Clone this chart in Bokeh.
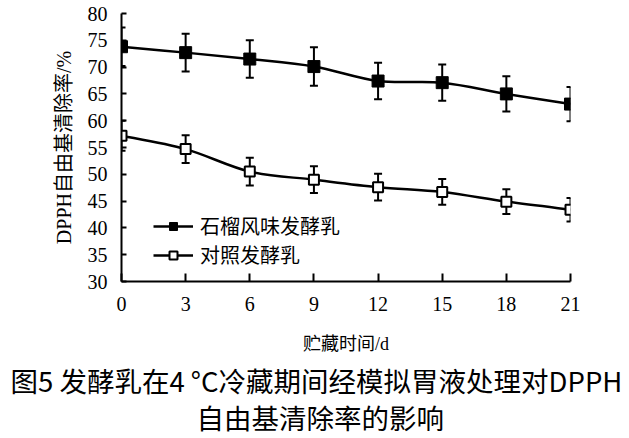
from bokeh.plotting import figure
from bokeh.models import (ColumnDataSource, Whisker, TeeHead, Legend, LegendItem,
                          Range1d, Title, FixedTicker)
from bokeh.embed import file_html
from bokeh.resources import INLINE

days = [0, 3, 6, 9, 12, 15, 18, 21]
pomegranate = [73.8, 72.7, 71.5, 70.1, 67.4, 67.1, 65.0, 63.1]
pomegranate_err = [3.6, 3.5, 3.5, 3.6, 3.4, 3.4, 3.3, 3.2]
control = [57.2, 54.7, 50.5, 49.0, 47.6, 46.7, 44.9, 43.4]
control_err = [2.8, 2.6, 2.6, 2.5, 2.5, 2.4, 2.3, 2.2]
x_ticks = [0, 3, 6, 9, 12, 15, 18, 21]
y_ticks = [30, 35, 40, 45, 50, 55, 60, 65, 70, 75, 80]
series_names = ["石榴风味发酵乳", "对照发酵乳"]
x_title = "贮藏时间/d"
y_title = "DPPH自由基清除率/%"
caption1 = "图5 发酵乳在4 °C冷藏期间经模拟胃液处理对DPPH"
caption2 = "自由基清除率的影响"

SERIF = "Liberation Serif"
SERIF_CJK = "Liberation Serif, Noto Sans CJK SC"
CJK = "Noto Sans CJK SC"


def smooth_segments(xs, ys):
    n = len(xs)
    d = dict(x0=[], y0=[], x1=[], y1=[], cx0=[], cy0=[], cx1=[], cy1=[])
    for i in range(n - 1):
        ip = max(i - 1, 0)
        inn = min(i + 2, n - 1)
        d["x0"].append(xs[i]); d["y0"].append(ys[i])
        d["x1"].append(xs[i + 1]); d["y1"].append(ys[i + 1])
        d["cx0"].append(xs[i] + (xs[i + 1] - xs[ip]) / 6)
        d["cy0"].append(ys[i] + (ys[i + 1] - ys[ip]) / 6)
        d["cx1"].append(xs[i + 1] - (xs[inn] - xs[i]) / 6)
        d["cy1"].append(ys[i + 1] - (ys[inn] - ys[i]) / 6)
    return ColumnDataSource(d)


p = figure(frame_width=449, frame_height=268,
           x_range=Range1d(0, 21), y_range=Range1d(30, 80),
           output_backend="svg", toolbar_location=None,
           min_border_left=121, min_border_right=59,
           min_border_top=13, min_border_bottom=157)
p.grid.visible = False
p.outline_line_color = None
p.background_fill_color = "white"
p.border_fill_color = "white"

for ax in (p.xaxis[0], p.yaxis[0]):
    ax.axis_line_width = 2
    ax.axis_line_color = "black"
    ax.major_tick_line_width = 2
    ax.major_tick_line_color = "black"
    ax.minor_tick_line_color = None
    ax.major_label_text_font = SERIF
    ax.major_label_text_font_size = "20px"
    ax.major_label_text_color = "black"
    ax.axis_label_text_color = "black"
    ax.axis_label_text_font_style = "normal"

p.xaxis.ticker = FixedTicker(ticks=x_ticks)
p.yaxis.ticker = FixedTicker(ticks=y_ticks)
p.xaxis.major_tick_in = 8
p.xaxis.major_tick_out = 0
p.yaxis.major_tick_in = 5
p.yaxis.major_tick_out = 0
p.xaxis.major_label_standoff = 15
p.yaxis.major_label_standoff = 14
p.xaxis.axis_label = x_title
p.yaxis.axis_label = y_title
p.xaxis.axis_label_text_font = SERIF_CJK
p.yaxis.axis_label_text_font = SERIF_CJK
p.xaxis.axis_label_text_font_size = "18px"
p.yaxis.axis_label_text_font_size = "20px"
p.xaxis.axis_label_standoff = 20
p.yaxis.axis_label_standoff = 10

src1 = ColumnDataSource(dict(x=days, y=pomegranate,
                             lo=[v - e for v, e in zip(pomegranate, pomegranate_err)],
                             hi=[v + e for v, e in zip(pomegranate, pomegranate_err)]))
src2 = ColumnDataSource(dict(x=days, y=control,
                             lo=[v - e for v, e in zip(control, control_err)],
                             hi=[v + e for v, e in zip(control, control_err)]))

for src in (src1, src2):
    w = Whisker(source=src, base="x", upper="hi", lower="lo",
                line_width=2, line_color="black",
                upper_head=TeeHead(size=8, line_width=2, line_color="black"),
                lower_head=TeeHead(size=8, line_width=2, line_color="black"),
                level="underlay")
    p.add_layout(w)

p.bezier(x0="x0", y0="y0", x1="x1", y1="y1", cx0="cx0", cy0="cy0",
         cx1="cx1", cy1="cy1", source=smooth_segments(days, pomegranate),
         line_color="black", line_width=2.5)
p.bezier(x0="x0", y0="y0", x1="x1", y1="y1", cx0="cx0", cy0="cy0",
         cx1="cx1", cy1="cy1", source=smooth_segments(days, control),
         line_color="black", line_width=2.5)

l1 = p.line("x", "y", source=src1, line_color="black", line_width=2.5, visible=False)
l2 = p.line("x", "y", source=src2, line_color="black", line_width=2.5, visible=False)
s1 = p.scatter("x", "y", source=src1, marker="square", size=12,
               fill_color="black", line_color="black", line_width=1)
s2 = p.scatter("x", "y", source=src2, marker="square", size=10,
               fill_color="white", line_color="black", line_width=2)

legend = Legend(items=[LegendItem(label=series_names[0], renderers=[l1, s1]),
                       LegendItem(label=series_names[1], renderers=[l2, s2])],
                location=(32, 12), glyph_width=40, glyph_height=20,
                label_height=20, label_standoff=7, spacing=0, padding=0,
                label_text_font=CJK, label_text_font_size="20px",
                label_text_color="black",
                border_line_color=None, background_fill_alpha=0)
p.add_layout(legend)

t1 = Title(text=caption1, align="left", offset=-111, standoff=2,
           text_font=CJK, text_font_size="27.5px", text_font_style="normal",
           text_color="black")
t2 = Title(text=caption2, align="left", offset=75, standoff=-12,
           text_font=CJK, text_font_size="27.5px", text_font_style="normal",
           text_color="black")
p.add_layout(t1, "below")
p.add_layout(t2, "below")

open("out.html", "w").write(file_html(p, INLINE))
